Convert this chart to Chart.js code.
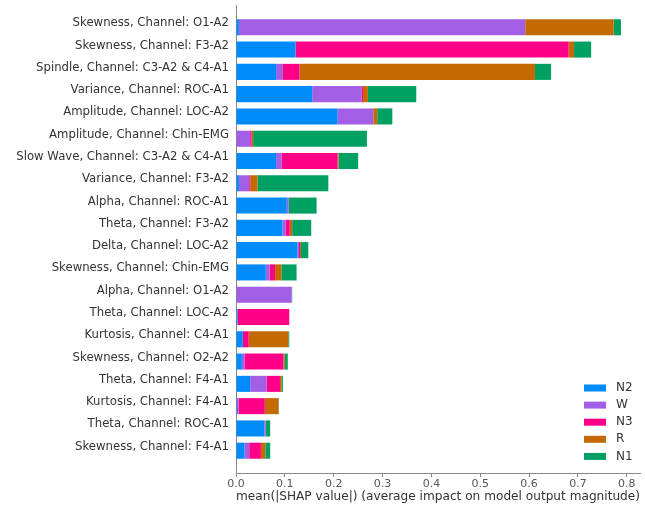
<!DOCTYPE html>
<html>
<head>
<meta charset="utf-8">
<script src="https://cdnjs.cloudflare.com/ajax/libs/Chart.js/4.4.1/chart.umd.min.js"></script>
<style>
    html, body { margin: 0; padding: 0; background: #fff; }
    #wrap { width: 645px; height: 506px; }
</style>
</head>
<body>
<div id="wrap"><canvas id="chart" width="645" height="506"></canvas></div>
<script>
    // features, top to bottom
    const features = [
        'Skewness, Channel: O1-A2',
        'Skewness, Channel: F3-A2',
        'Spindle, Channel: C3-A2 & C4-A1',
        'Variance, Channel: ROC-A1',
        'Amplitude, Channel: LOC-A2',
        'Amplitude, Channel: Chin-EMG',
        'Slow Wave, Channel: C3-A2 & C4-A1',
        'Variance, Channel: F3-A2',
        'Alpha, Channel: ROC-A1',
        'Theta, Channel: F3-A2',
        'Delta, Channel: LOC-A2',
        'Skewness, Channel: Chin-EMG',
        'Alpha, Channel: O1-A2',
        'Theta, Channel: LOC-A2',
        'Kurtosis, Channel: C4-A1',
        'Skewness, Channel: O2-A2',
        'Theta, Channel: F4-A1',
        'Kurtosis, Channel: F4-A1',
        'Theta, Channel: ROC-A1',
        'Skewness, Channel: F4-A1'
    ];

    // mean |SHAP| per sleep stage
    const n2 = [0.006, 0.122, 0.082, 0.156, 0.208, 0.000, 0.082, 0.006, 0.104, 0.095,
                0.126, 0.061, 0.000, 0.003, 0.014, 0.012, 0.029, 0.002, 0.058, 0.017];
    const w  = [0.586, 0.000, 0.014, 0.101, 0.073, 0.029, 0.011, 0.021, 0.004, 0.007,
                0.003, 0.008, 0.114, 0.000, 0.000, 0.006, 0.034, 0.003, 0.003, 0.010];
    const n3 = [0.000, 0.559, 0.034, 0.003, 0.000, 0.003, 0.115, 0.002, 0.000, 0.008,
                0.002, 0.011, 0.000, 0.106, 0.012, 0.079, 0.027, 0.054, 0.000, 0.024];
    const r  = [0.181, 0.011, 0.482, 0.010, 0.008, 0.003, 0.002, 0.015, 0.000, 0.005,
                0.002, 0.013, 0.000, 0.000, 0.081, 0.003, 0.003, 0.028, 0.000, 0.009];
    const n1 = [0.015, 0.035, 0.033, 0.099, 0.031, 0.233, 0.040, 0.145, 0.057, 0.039,
                0.015, 0.031, 0.001, 0.000, 0.002, 0.006, 0.003, 0.001, 0.009, 0.010];

    const xTicks = [0, 0.1, 0.2, 0.3, 0.4, 0.5, 0.6, 0.7, 0.8];

    const seriesNames = ['N2', 'W', 'N3', 'R', 'N1'];
    const seriesData = [n2, w, n3, r, n1];
    const seriesColors = ['#008bfb', '#a25fe5', '#ff0088', '#c56a00', '#009f62'];

    // blank row above and below, like the matplotlib ylim
    const labels = [''].concat(features, ['']);
    const pad = arr => [null].concat(arr, [null]);

    const FONT = 'DejaVu Sans';

    // legend drawn in the lower right of the plot
    const shapLegend = {
        id: 'shapLegend',
        afterDraw(chart) {
            const ctx = chart.ctx;
            ctx.save();
            ctx.font = '12px "' + FONT + '"';
            ctx.textBaseline = 'middle';
            chart.data.datasets.forEach((ds, i) => {
                const y = 388 + i * 17.1;
                ctx.fillStyle = ds.backgroundColor;
                ctx.fillRect(584, y - 3.5, 22, 7);
                ctx.fillStyle = '#333';
                ctx.fillText(ds.label, 616, y);
            });
            ctx.restore();
        }
    };

    new Chart(document.getElementById('chart'), {
        type: 'bar',
        data: {
            labels: labels,
            datasets: seriesNames.map((name, i) => ({
                label: name,
                data: pad(seriesData[i]),
                backgroundColor: seriesColors[i],
                borderWidth: 0,
                categoryPercentage: 1,
                barPercentage: 0.72
            }))
        },
        options: {
            indexAxis: 'y',
            responsive: false,
            animation: false,
            layout: { padding: { top: 5, right: 5, left: 0, bottom: 0 } },
            plugins: {
                legend: { display: false },
                tooltip: { enabled: false }
            },
            scales: {
                x: {
                    stacked: true,
                    min: 0,
                    max: 0.827,
                    afterFit: s => { s.height = 33; },
                    afterBuildTicks: s => { s.ticks = xTicks.map(v => ({ value: v })); },
                    grid: { display: true, drawOnChartArea: false, tickLength: 4, color: '#888' },
                    border: { display: true, color: '#888' },
                    ticks: {
                        padding: 1,
                        color: '#555',
                        font: { family: FONT, size: 11 },
                        callback: v => v.toFixed(1)
                    },
                    title: {
                        display: true,
                        text: 'mean(|SHAP value|) (average impact on model output magnitude)',
                        color: '#333',
                        font: { family: FONT, size: 12.6 },
                        padding: { top: 2, bottom: 2 }
                    }
                },
                y: {
                    stacked: true,
                    offset: false,
                    afterFit: s => { s.width = 236; s.paddingTop = 0; s.paddingBottom = 0; },
                    grid: { display: false, drawTicks: false },
                    border: { display: true, color: '#888' },
                    ticks: {
                        padding: 7,
                        labelOffset: -4,
                        autoSkip: false,
                        color: '#333',
                        font: { family: FONT, size: 11.7 }
                    }
                }
            }
        },
        plugins: [shapLegend]
    });
</script>
</body>
</html>
